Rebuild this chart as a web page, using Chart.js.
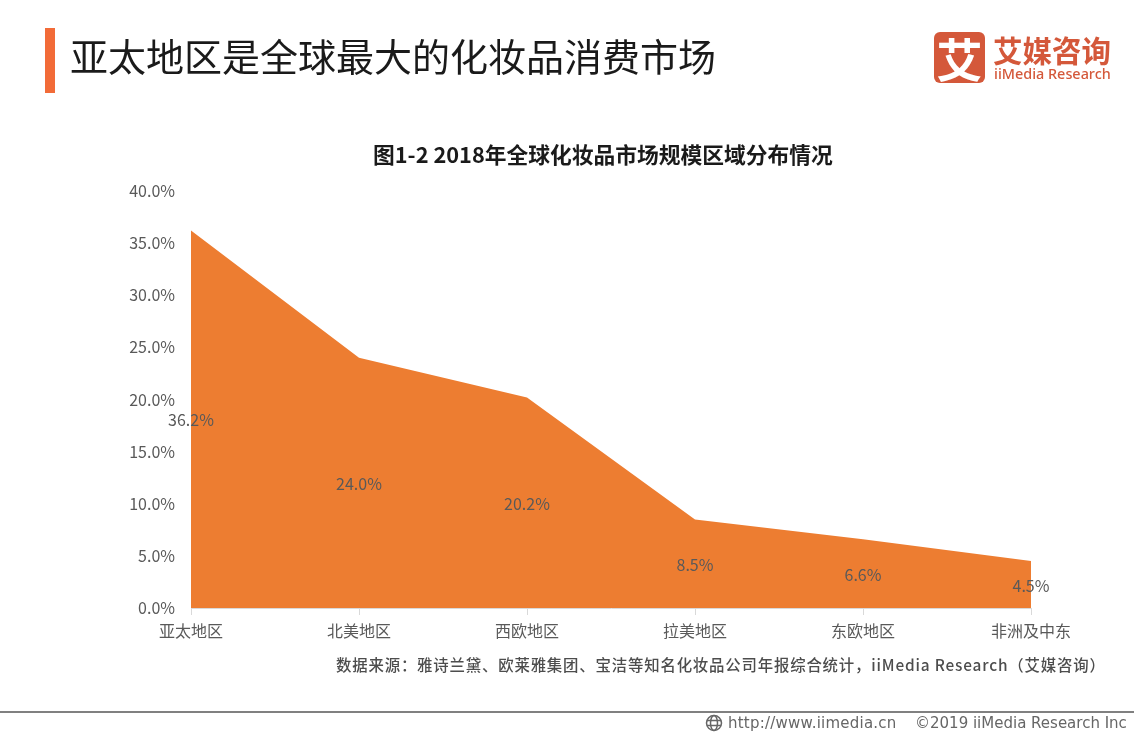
<!DOCTYPE html>
<html>
<head>
<meta charset="utf-8">
<script src="https://cdn.jsdelivr.net/npm/chart.js@4"></script>
<style>
  html, body { margin: 0; padding: 0; background: #fff; overflow: hidden; }
  #page { position: relative; width: 1134px; height: 737px; font-family: "Noto Sans CJK SC", sans-serif; }
  #page div, #page span { position: absolute; white-space: nowrap; }
  canvas { position: absolute; left: 0; top: 0; }
  #bar { left: 45px; top: 28px; width: 10px; height: 65px; background: #f26b38; }
  #title { left: 70px; top: 29px; font-size: 38px; line-height: 52px; color: #1a1a1a; }
  #subtitle { left: 373px; top: 139px; font-size: 21.75px; line-height: 30px; font-weight: 700; color: #1a1a1a; }
  #logoBox { left: 934px; top: 32px; width: 51px; height: 51px; border-radius: 6px; background: #d4583a; color: #fff; font-size: 46px; line-height: 50px; font-weight: 700; text-align: center; }
  #logoCn { left: 993px; top: 30px; font-size: 29.5px; line-height: 38px; font-weight: 700; color: #d4583a; }
  #logoEn { left: 994px; top: 64px; font-size: 14.4px; line-height: 20px; font-weight: 500; font-family: "Noto Sans", sans-serif; color: #d4583a; }
  #source { left: 336px; top: 653px; font-size: 15.4px; line-height: 22px; font-weight: 500; color: #4d4d4d; letter-spacing: 0.83px; }
  #rule { left: 0; top: 711px; width: 1134px; height: 2px; background: #808080; }
  #site { left: 728px; top: 713px; font-size: 15px; line-height: 20px; font-weight: 500; color: #666; font-family: "DejaVu Sans", sans-serif; letter-spacing: 0.23px; }
  #copy { left: 915px; top: 713px; font-size: 15px; line-height: 20px; font-weight: 500; color: #666; font-family: "DejaVu Sans", sans-serif; letter-spacing: 0; }
  #globe { position: absolute; left: 705px; top: 714px; }
</style>
</head>
<body>
<div id="page">
  <canvas id="area-graph" width="1134" height="737"></canvas>
  <div id="bar"></div>
  <div id="title">亚太地区是全球最大的化妆品消费市场</div>
  <div id="subtitle">图1-2 2018年全球化妆品市场规模区域分布情况</div>
  <div id="logoBox">艾</div>
  <div id="logoCn">艾媒咨询</div>
  <div id="logoEn">iiMedia Research</div>
  <div id="source">数据来源：雅诗兰黛、欧莱雅集团、宝洁等知名化妆品公司年报综合统计，iiMedia Research（艾媒咨询）</div>
  <div id="rule"></div>
  <svg id="globe" width="18" height="18" viewBox="0 0 18 18" fill="none" stroke="#666" stroke-width="1.5">
    <circle cx="9" cy="9" r="7.5"></circle>
    <ellipse cx="9" cy="9" rx="3.5" ry="7.5"></ellipse>
    <path d="M2 6.5h14M2 11.5h14"></path>
  </svg>
  <div id="site">http://www.iimedia.cn</div>
  <div id="copy">©2019 iiMedia Research Inc</div>
</div>
<script>
const categories = ['亚太地区', '北美地区', '西欧地区', '拉美地区', '东欧地区', '非洲及中东'];
const shares = [36.2, 24.0, 20.2, 8.5, 6.6, 4.5];
const yTicks = [0, 5, 10, 15, 20, 25, 30, 35, 40];

const tickFont = { family: '"Noto Sans CJK SC", sans-serif', size: 16 };

// labels sit halfway up the area, at each category
const midLabels = {
  id: 'midLabels',
  afterDatasetsDraw(chart) {
    const ctx = chart.ctx;
    const x = chart.scales.x;
    const y = chart.scales.y;
    ctx.save();
    ctx.font = '16px "Noto Sans CJK SC", sans-serif';
    ctx.fillStyle = '#595959';
    ctx.textAlign = 'center';
    ctx.textBaseline = 'middle';
    shares.forEach((value, i) => {
      ctx.fillText(value.toFixed(1) + '%', x.getPixelForValue(i), y.getPixelForValue(value / 2) + 1);
    });
    ctx.restore();
  }
};

new Chart(document.getElementById('area-graph').getContext('2d'), {
  type: 'line',
  data: {
    labels: categories,
    datasets: [{
      data: shares,
      fill: 'origin',
      backgroundColor: '#ed7d31',
      borderWidth: 0,
      pointRadius: 0,
      tension: 0
    }]
  },
  options: {
    responsive: false,
    animation: false,
    layout: { padding: { left: 0, right: 103, top: 191, bottom: 0 } },
    plugins: { legend: { display: false }, tooltip: { enabled: false } },
    scales: {
      x: {
        offset: false,
        afterFit(axis) { axis.height = 129; },
        grid: { drawOnChartArea: false, color: '#d9d9d9', tickLength: 7 },
        border: { color: '#d9d9d9' },
        ticks: { font: tickFont, color: '#595959', autoSkip: false, maxRotation: 0, padding: 6 }
      },
      y: {
        min: 0,
        max: 40,
        afterFit(axis) { axis.width = 191; },
        afterBuildTicks(axis) { axis.ticks = yTicks.map(v => ({ value: v })); },
        grid: { display: false },
        border: { display: false },
        ticks: {
          font: tickFont,
          color: '#595959',
          padding: 8,
          callback: v => v.toFixed(1) + '%'
        }
      }
    }
  },
  plugins: [midLabels]
});
</script>
</body>
</html>
